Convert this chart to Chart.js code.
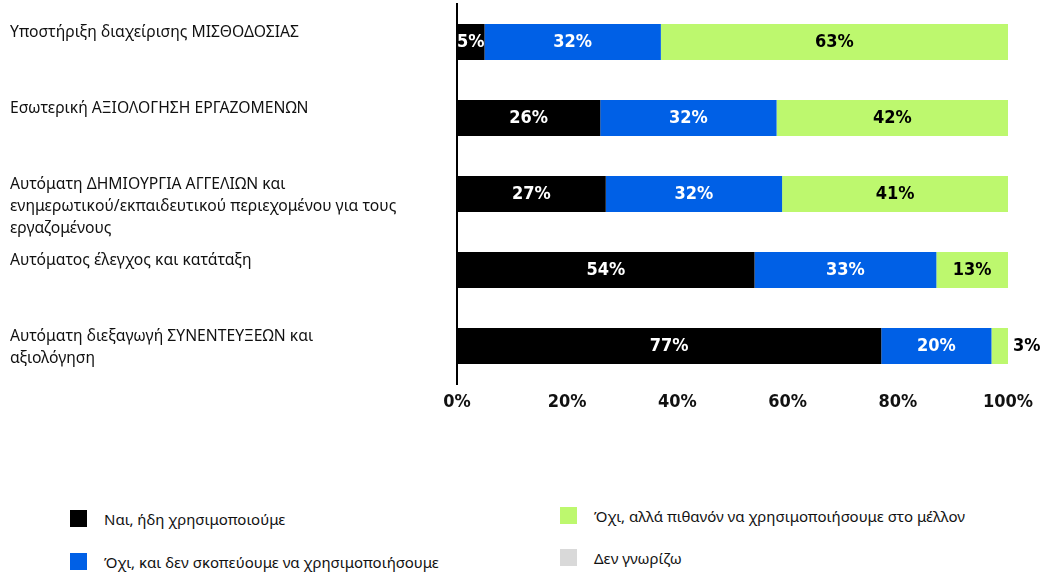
<!DOCTYPE html>
<html>
<head>
<meta charset="utf-8">
<script src="https://cdn.jsdelivr.net/npm/chart.js@4.4.0/dist/chart.umd.min.js"></script>
<style>
  body { margin: 0; background: #fff; overflow: hidden; }
  #wrap { position: relative; width: 1046px; height: 572px; }
  #chartBox { position: absolute; left: 0; top: 0; width: 1046px; height: 420px; }
  .leg { position: absolute; font-family: "Noto Sans", sans-serif; font-size: 15px; color: #111; display: flex; align-items: center; height: 17px; }
  .leg i { display: inline-block; width: 17px; height: 17px; margin-right: 17px; }
</style>
</head>
<body>
<div id="wrap">
  <div id="chartBox"><canvas id="c"></canvas></div>
  <div id="legend"></div>
</div>
<script>
const categories = [
  ['Υποστήριξη διαχείρισης ΜΙΣΘΟΔΟΣΙΑΣ'],
  ['Εσωτερική ΑΞΙΟΛΟΓΗΣΗ ΕΡΓΑΖΟΜΕΝΩΝ'],
  ['Αυτόματη ΔΗΜΙΟΥΡΓΙΑ ΑΓΓΕΛΙΩΝ και', 'ενημερωτικού/εκπαιδευτικού περιεχομένου για τους', 'εργαζομένους'],
  ['Αυτόματος έλεγχος και κατάταξη'],
  ['Αυτόματη διεξαγωγή ΣΥΝΕΝΤΕΥΞΕΩΝ και', 'αξιολόγηση']
];
const seriesNames = [
  'Ναι, ήδη χρησιμοποιούμε',
  'Όχι, και δεν σκοπεύουμε να χρησιμοποιήσουμε',
  'Όχι, αλλά πιθανόν να χρησιμοποιήσουμε στο μέλλον',
  'Δεν γνωρίζω'
];
const yesAlready = [5, 26, 27, 54, 77];
const noNever = [32, 32, 32, 33, 20];
const noMaybe = [63, 42, 41, 13, 3];
const dontKnow = [0, 0, 0, 0, 0];
const xTicks = [0, 20, 40, 60, 80, 100];

const colors = ['#000000', '#0060e6', '#bdf86e', '#d9d9d9'];
const labelColors = ['#ffffff', '#ffffff', '#000000', '#000000'];
const numFont = '"DejaVu Sans Condensed", "Liberation Sans Narrow", sans-serif';

const allSeries = [yesAlready, noNever, noMaybe, dontKnow];

const catLabels = {
  id: 'catLabels',
  afterDraw(chart) {
    const ctx = chart.ctx;
    const y = chart.scales.y;
    ctx.save();
    ctx.font = '15.7px "Noto Sans", sans-serif';
    ctx.fillStyle = '#111';
    ctx.textAlign = 'left';
    ctx.textBaseline = 'middle';
    categories.forEach((lines, i) => {
      const top = y.getPixelForValue(i) - 18;
      lines.forEach((ln, k) => ctx.fillText(ln, 10, top + 9 + k * 22));
    });
    ctx.restore();
  }
};

const valueLabels = {
  id: 'valueLabels',
  afterDatasetsDraw(chart) {
    const ctx = chart.ctx;
    ctx.save();
    ctx.font = 'bold 18px ' + numFont;
    ctx.textBaseline = 'middle';
    chart.data.datasets.forEach((ds, di) => {
      chart.getDatasetMeta(di).data.forEach((bar, i) => {
        const v = ds.data[i];
        if (!v) return;
        const left = Math.min(bar.x, bar.base), right = Math.max(bar.x, bar.base);
        if (v < 5) {
          ctx.textAlign = 'left';
          ctx.fillStyle = '#000';
          ctx.fillText(v + '%', right + 5, bar.y);
        } else {
          ctx.textAlign = 'center';
          ctx.fillStyle = labelColors[di];
          ctx.fillText(v + '%', (left + right) / 2, bar.y);
        }
      });
    });
    ctx.restore();
  }
};

new Chart(document.getElementById('c'), {
  type: 'bar',
  data: {
    labels: categories.map(c => c.join(' ')),
    datasets: allSeries.map((d, i) => ({
      label: seriesNames[i],
      data: d,
      backgroundColor: colors[i],
      borderWidth: 0,
      categoryPercentage: 1,
      barPercentage: 36 / 76
    }))
  },
  options: {
    indexAxis: 'y',
    responsive: true,
    maintainAspectRatio: false,
    animation: false,
    layout: { padding: { left: 0, right: 38, top: 4, bottom: 0 } },
    plugins: { legend: { display: false }, tooltip: { enabled: false } },
    scales: {
      x: {
        stacked: true,
        min: 0,
        max: 100,
        afterBuildTicks(scale) { scale.ticks = xTicks.map(v => ({ value: v })); },
        afterFit(scale) { scale.height = 36; },
        grid: { display: false, drawTicks: false },
        border: { display: false },
        ticks: {
          color: '#111',
          padding: 8,
          font: { family: numFont, size: 18, weight: 'bold' },
          callback: v => v + '%'
        }
      },
      y: {
        stacked: true,
        afterFit(scale) { scale.width = 457; },
        grid: { display: false },
        border: { display: true, color: '#000', width: 2 },
        ticks: { display: false }
      }
    }
  },
  plugins: [catLabels, valueLabels]
});

// legend in two columns
const legPos = [[70, 510], [70, 553], [560, 507], [560, 549]];
const legend = document.getElementById('legend');
seriesNames.forEach((name, i) => {
  const el = document.createElement('div');
  el.className = 'leg';
  el.style.left = legPos[i][0] + 'px';
  el.style.top = legPos[i][1] + 'px';
  el.innerHTML = '<i style="background:' + colors[i] + '"></i><span></span>';
  el.querySelector('span').textContent = name;
  legend.appendChild(el);
});
</script>
</body>
</html>
